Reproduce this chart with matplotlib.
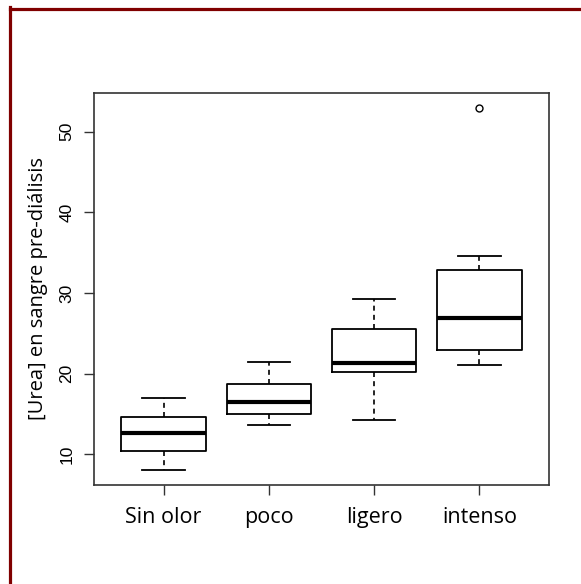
import matplotlib
matplotlib.use("Agg")
import matplotlib.pyplot as plt
from matplotlib.lines import Line2D

# grupos de olor y resumen de cada caja
grupos = ["Sin olor", "poco", "ligero", "intenso"]
bigote_inf = [8.0, 13.7, 14.3, 21.05]
q1 = [10.37, 15.0, 20.15, 22.9]
mediana = [12.67, 16.5, 21.3, 26.87]
q3 = [14.65, 18.7, 25.55, 32.8]
bigote_sup = [16.93, 21.42, 29.3, 34.55]
atipicos = [[], [], [], [53.0]]

humanist = ["Open Sans", "DejaVu Sans"]

fig = plt.figure(figsize=(5.81, 5.84), dpi=100)
ax = fig.add_axes([94 / 581, 1 - 485 / 584, 455 / 581, 392 / 584])

stats = []
for i, g in enumerate(grupos):
    stats.append(dict(label=g, whislo=bigote_inf[i], q1=q1[i], med=mediana[i],
                      q3=q3[i], whishi=bigote_sup[i], fliers=atipicos[i]))

ax.bxp(stats, positions=range(1, 5), widths=0.8, showfliers=True,
       boxprops=dict(color="black", linewidth=1.3),
       medianprops=dict(color="black", linewidth=3, solid_capstyle="butt"),
       whiskerprops=dict(color="black", linewidth=1.2, linestyle=(0, (3, 2.5))),
       capprops=dict(color="black", linewidth=1.3),
       capwidths=0.4,
       flierprops=dict(marker="o", markersize=5, markerfacecolor="none",
                       markeredgecolor="black", markeredgewidth=1))

ax.set_xlim(0.34, 4.66)
ax.set_ylim(6.2, 54.8)
ax.set_yticks([10, 20, 30, 40, 50])
ax.set_yticklabels(["10", "20", "30", "40", "50"], rotation=90, va="center",
                   family="Liberation Sans", fontsize=12.5)
ax.set_xticks(range(1, 5))
ax.set_xticklabels(grupos, family=humanist, fontsize=15.5)
ax.tick_params(axis="both", length=7, width=1, color="#333333")
ax.tick_params(axis="x", pad=9)
ax.tick_params(axis="y", pad=7)
for s in ax.spines.values():
    s.set_linewidth(1.2)
    s.set_color("#333333")

ax.set_ylabel("[Urea] en sangre pre-diálisis", family=humanist, fontsize=14.5,
              labelpad=8)

# marco rojo (solo arriba e izquierda, como en la imagen recortada)
rojo = "#800000"
fig.add_artist(Line2D([9.5 / 581, 1.0], [1 - 8.5 / 584, 1 - 8.5 / 584],
                      transform=fig.transFigure, color=rojo, linewidth=2.3))
fig.add_artist(Line2D([9.5 / 581, 9.5 / 581], [0.0, 1 - 7.0 / 584],
                      transform=fig.transFigure, color=rojo, linewidth=2.3))

fig.savefig("out.png", dpi=100)
